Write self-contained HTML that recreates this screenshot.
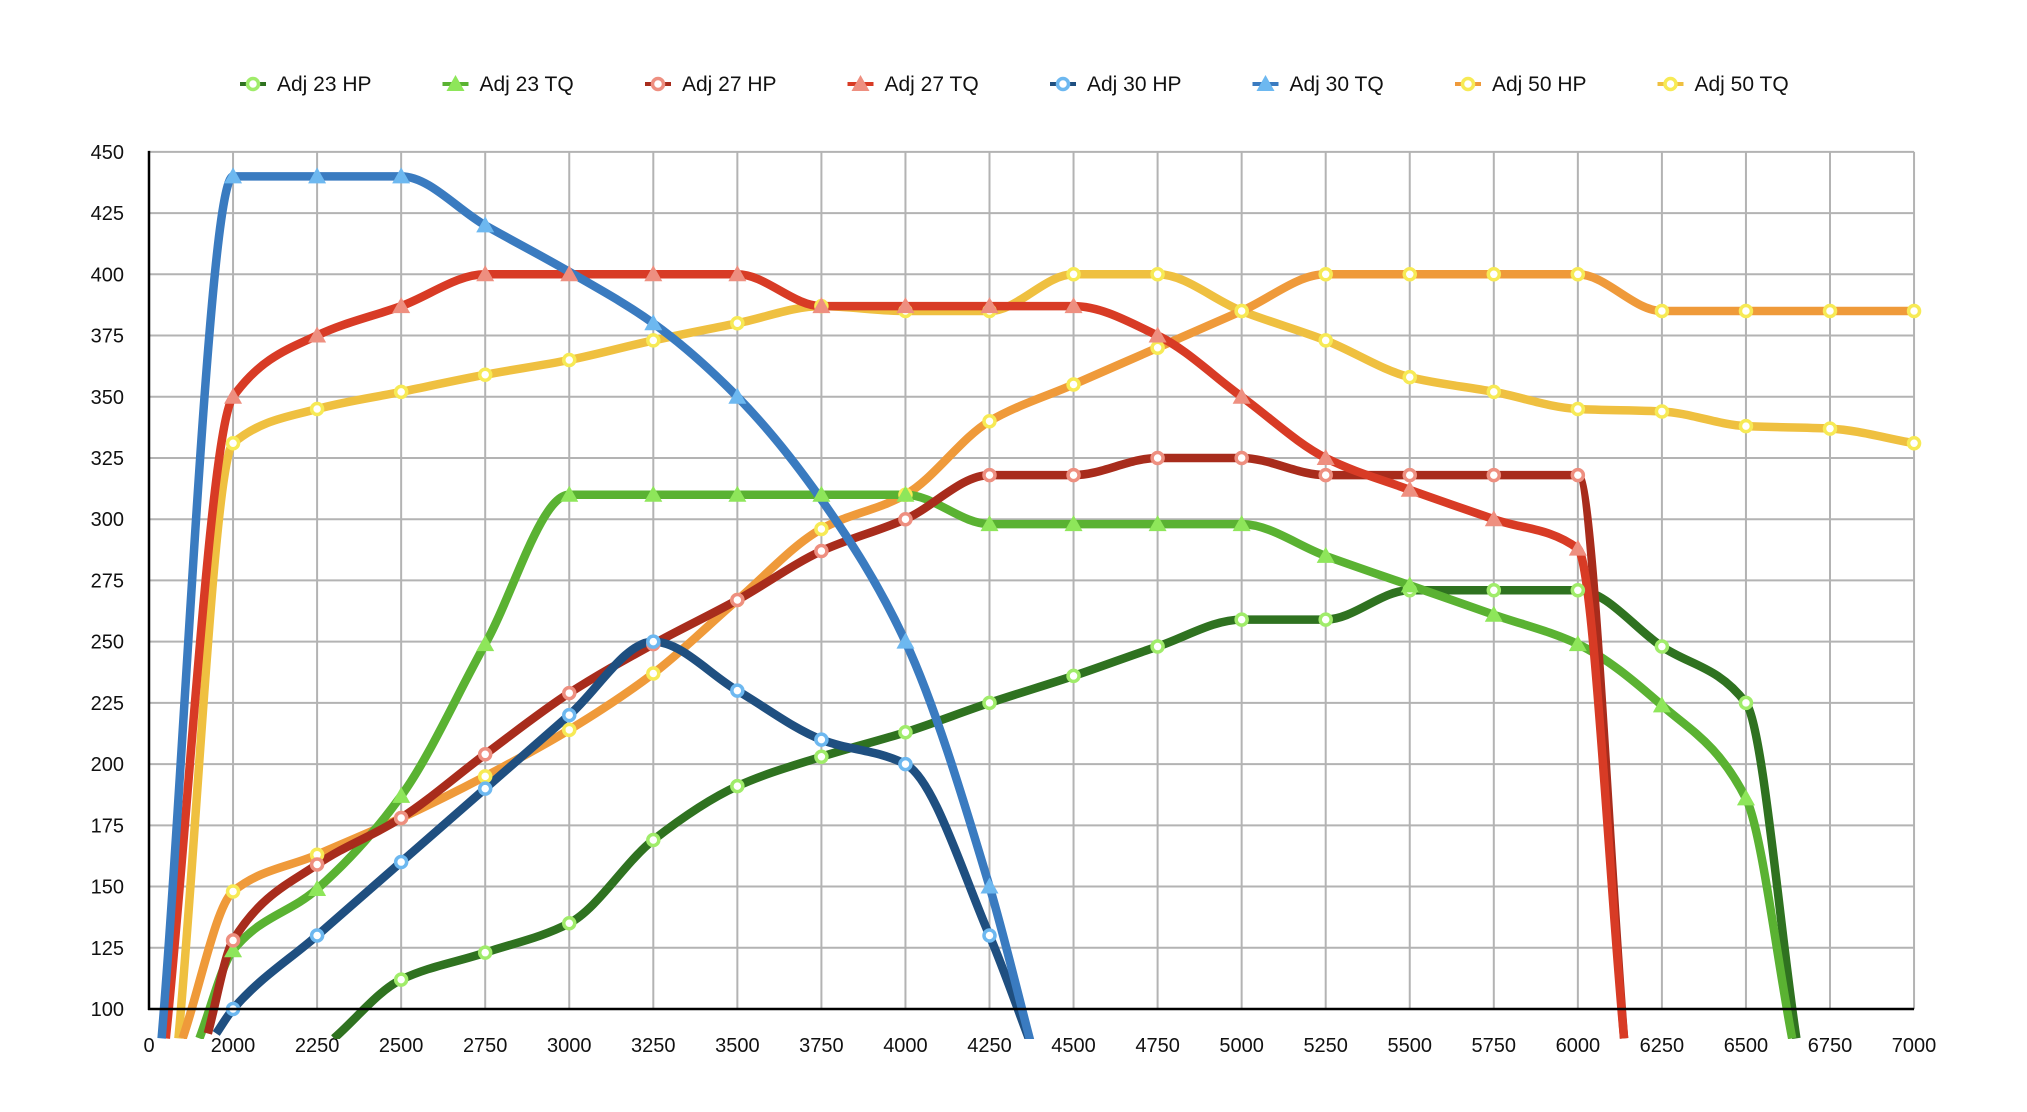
<!DOCTYPE html>
<html><head><meta charset="utf-8"><style>
html,body{margin:0;padding:0;background:#fff;}
svg{display:block;font-family:"Liberation Sans",sans-serif;}
</style></head><body>
<svg id="c" width="2027" height="1112" xmlns="http://www.w3.org/2000/svg"></svg>
<script>
const S=document.getElementById('c');const NS='http://www.w3.org/2000/svg';
function el(t,a,p){const e=document.createElementNS(NS,t);for(const k in a)e.setAttribute(k,a[k]);(p||S).appendChild(e);return e;}
const X=i=>149+84.05*i, Y=v=>1009-(v-100)*2.449;
for(let v=125;v<=450;v+=25)el('line',{x1:149,x2:X(21),y1:Y(v),y2:Y(v),stroke:'#b3b3b3','stroke-width':2});
for(let i=1;i<=21;i++)el('line',{x1:X(i),x2:X(i),y1:Y(450),y2:1009,stroke:'#b3b3b3','stroke-width':2});
for(let v=100;v<=450;v+=25){const t=el('text',{x:124,y:Y(v)+7,'text-anchor':'end','font-size':20,fill:'#111'});t.textContent=v;}
const xl=['0'];for(let r=2000;r<=7000;r+=250)xl.push(r);
xl.forEach((s,i)=>{const t=el('text',{x:X(i),y:1052,'text-anchor':'middle','font-size':20,fill:'#111'});t.textContent=s;});
const defs=el('defs',{});const cp=el('clipPath',{id:'cl'},defs);el('rect',{x:149,y:140,width:1800,height:899},cp);
const g=el('g',{'clip-path':'url(#cl)'});
function mk(start,arr,end){const pts=[];if(start)pts.push(start);arr.forEach((v,j)=>{if(v!=null)pts.push([j+1,v,1]);});if(end)pts.push(end);return pts;}
const series=[
{n:'Adj 50 TQ',c:'#efc040',l:'#f7ea55',m:'c',p:mk([0.35,88],[331,345,352,359,365,373,380,387,385,385,400,400,385,373,358,352,345,344,338,337,331])},
{n:'Adj 50 HP',c:'#ef9a3a',l:'#f7ea55',m:'c',p:mk([0.4,88],[148,163,178,195,214,237,267,296,310,340,355,370,385,400,400,400,400,385,385,385,385])},
{n:'Adj 23 HP',c:'#2f7220',l:'#a0ec6a',m:'c',p:mk([2.2,88],[null,null,112,123,135,169,191,203,213,225,236,248,259,259,271,271,271,248,225],[19.6,88])},
{n:'Adj 23 TQ',c:'#5ab232',l:'#8ee65a',m:'t',p:mk([0.6,88],[124,149,187,249,310,310,310,310,310,298,298,298,298,285,273,261,249,224,186],[19.55,88])},
{n:'Adj 27 HP',c:'#a82c1c',l:'#ee8f80',m:'c',p:mk([0.7,90],[128,159,178,204,229,249,267,287,300,318,318,325,325,318,318,318,318],[17.55,88])},
{n:'Adj 27 TQ',c:'#d83b25',l:'#ee8f80',m:'t',p:mk([0.2,88],[350,375,387,400,400,400,400,387,387,387,387,375,350,325,312,300,288],[17.55,88])},
{n:'Adj 30 HP',c:'#1f4f80',l:'#6db8f0',m:'c',p:mk([0.8,90],[100,130,160,190,220,250,230,210,200,130],[10.5,85])},
{n:'Adj 30 TQ',c:'#3a7bc0',l:'#6db8f0',m:'t',p:mk([0.15,88],[440,440,440,420,401,380,350,308,250,150],[10.5,85])}
];
series[7].p=series[7].p.map(q=>(q[0]==5||q[0]==8)?[q[0],q[1],0]:q);
function path(pts){const P=pts.map(q=>[X(q[0]),Y(q[1])]);const n=P.length;const d=[],m=new Array(n);
for(let i=0;i<n-1;i++)d.push((P[i+1][1]-P[i][1])/(P[i+1][0]-P[i][0]));
m[0]=d[0];m[n-1]=d[n-2];
for(let i=1;i<n-1;i++){if(d[i-1]*d[i]<=0)m[i]=0;else{const h0=P[i][0]-P[i-1][0],h1=P[i+1][0]-P[i][0];const w1=2*h1+h0,w2=h1+2*h0;m[i]=(w1+w2)/(w1/d[i-1]+w2/d[i]);}}
let s='M'+P[0][0]+','+P[0][1];
for(let i=0;i<n-1;i++){const h=(P[i+1][0]-P[i][0])/3;s+=`C${P[i][0]+h},${P[i][1]+m[i]*h} ${P[i+1][0]-h},${P[i+1][1]-m[i+1]*h} ${P[i+1][0]},${P[i+1][1]}`;}
return s;}
series.forEach(s=>el('path',{d:path(s.p),fill:'none',stroke:s.c,'stroke-width':8.5,'stroke-linecap':'butt','stroke-linejoin':'round'},g));
function marker(m,x,y,col,par){if(m=='c'){el('circle',{cx:x,cy:y,r:5.5,fill:'#fff',stroke:col,'stroke-width':3.5},par);}
else el('polygon',{points:`${x-9},${y+7} ${x+9},${y+7} ${x},${y-9}`,fill:col},par);}
series.forEach(s=>s.p.forEach(q=>{if(q[2])marker(s.m,X(q[0]),Y(q[1]),s.l,g);}));
const order=[2,3,4,5,6,7,1,0];
order.forEach((si,k)=>{const s=series[si];const x=253+202.5*k;
el('line',{x1:x-13,x2:x+13,y1:84,y2:84,stroke:s.c,'stroke-width':4});marker(s.m,x,84,s.l);
const t=el('text',{x:x+24,y:91,'font-size':21,fill:'#111'});t.textContent=s.n;});
el('line',{x1:149,x2:149,y1:Y(450)-1,y2:1010,stroke:'#000','stroke-width':2.5});
el('line',{x1:148,x2:X(21),y1:1009,y2:1009,stroke:'#000','stroke-width':2.5});
</script>
</body></html>
